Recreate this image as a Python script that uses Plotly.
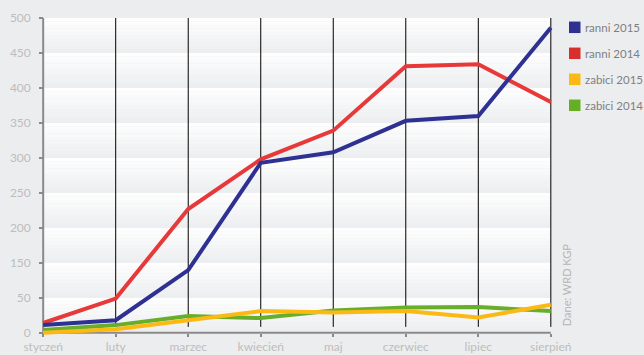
import numpy as np
import plotly.graph_objects as go

# ---- data -------------------------------------------------------------
months = ["styczeń", "luty", "marzec", "kwiecień", "maj", "czerwiec", "lipiec", "sierpień"]
ranni_2015 = [11, 18, 129, 293, 308, 353, 360, 486]
ranni_2014 = [14, 49, 227, 298, 339, 431, 434, 380]
zabici_2015 = [0, 5, 18, 31, 29, 31, 22, 40]
zabici_2014 = [4, 11, 24, 21, 32, 36, 37, 31]
series_names = ["ranni 2015", "ranni 2014", "zabici 2015", "zabici 2014"]
# the source chart's value axis (note: it has no "100" label)
y_tick_labels = [0, 50, 150, 200, 250, 300, 350, 400, 450, 500]
source_note = "Dane: WRD KGP"

# ---- styles -----------------------------------------------------------
line_colors = ["#2e3192", "#e8393a", "#fdb913", "#67ae2a"]
legend_colors = ["#2e3192", "#d7302c", "#fdb913", "#66ae24"]
paper_bg = "#ecedef"
axis_gray = "#8c898a"
label_gray = "#bdbdbd"
FONT = "Lato, 'Open Sans', sans-serif"
W, H = 644, 355
M_L, M_R, M_T, M_B = 41, 91, 18, 18

# the chart's value scale is piecewise: one gridline step per listed label
grid_idx = np.arange(len(y_tick_labels))


def to_axis(values):
    return np.interp(values, y_tick_labels, grid_idx)


x_idx = np.arange(len(months))
X_PAD = 0.03
Y_PAD = 0.12
x_range = [x_idx[0] - X_PAD, x_idx[-1] + X_PAD]
y_range = [grid_idx[0] - Y_PAD, grid_idx[-1]]


def px_to_paper_x(px):
    return (px - M_L) / (W - M_L - M_R)


def px_to_paper_y(py):
    return (H - M_B - py) / (H - M_T - M_B)


fig = go.Figure()

all_series = [ranni_2015, ranni_2014, zabici_2015, zabici_2014]
# data lines (green/yellow first, then red, then blue on top)
for k in [3, 2, 1, 0]:
    fig.add_trace(go.Scatter(
        x=x_idx, y=to_axis(all_series[k]), mode="lines",
        line=dict(color=line_colors[k], width=4),
        name=series_names[k], showlegend=False,
        customdata=all_series[k],
        hovertemplate="%{customdata}<extra>" + series_names[k] + "</extra>",
    ))

shapes = []
# gradient bands: white at the top of each band, light grey at the bottom
top_rgb = np.array([255, 255, 255])
bot_rgb = np.array([235, 237, 239])
steps = 10
for b in grid_idx[:-1]:
    for s in range(steps):
        t = (s + 0.5) / steps  # 0 bottom -> 1 top
        c = bot_rgb + (top_rgb - bot_rgb) * t
        shapes.append(dict(
            type="rect", xref="x", yref="y", layer="below",
            x0=x_idx[0], x1=x_idx[-1],
            y0=b + s / steps, y1=b + (s + 1) / steps,
            fillcolor="rgb(%d,%d,%d)" % tuple(np.round(c).astype(int)),
            line=dict(width=0),
        ))
# vertical black month lines
for xi in x_idx[1:]:
    shapes.append(dict(
        type="line", xref="x", yref="y", layer="below",
        x0=xi, x1=xi, y0=0.17, y1=grid_idx[-1],
        line=dict(color="black", width=1),
    ))
# axis lines
shapes.append(dict(type="line", xref="x", yref="y", layer="below",
                   x0=x_idx[0], x1=x_idx[-1], y0=0, y1=0,
                   line=dict(color=axis_gray, width=2)))
shapes.append(dict(type="line", xref="x", yref="y", layer="below",
                   x0=x_idx[0], x1=x_idx[0], y0=0, y1=grid_idx[-1],
                   line=dict(color=axis_gray, width=2)))

# legend (square swatch + label), laid out like the reference
annotations = []
LEG_SW_X, LEG_SW = 569, 11.5
LEG_TEXT_X = 583
LEG_Y0, LEG_DY = 27.3, 26
for k, name in enumerate(series_names):
    cy = LEG_Y0 + k * LEG_DY
    shapes.append(dict(
        type="rect", xref="paper", yref="paper", layer="above",
        x0=px_to_paper_x(LEG_SW_X), x1=px_to_paper_x(LEG_SW_X + LEG_SW),
        y0=px_to_paper_y(cy + LEG_SW / 2), y1=px_to_paper_y(cy - LEG_SW / 2),
        fillcolor=legend_colors[k], line=dict(width=0),
    ))
    annotations.append(dict(
        text=name, showarrow=False, xref="paper", yref="paper",
        x=px_to_paper_x(LEG_TEXT_X), y=px_to_paper_y(cy),
        xanchor="left", yanchor="middle",
        font=dict(family=FONT, size=11.5, color="#7f7f7f"),
    ))

annotations.append(dict(
    text=source_note, textangle=-90, showarrow=False,
    xref="x", yref="y", x=x_idx[-1], y=1.37,
    xanchor="left", yanchor="middle", xshift=8,
    font=dict(family=FONT, size=11, color="#b5b5b5"),
))

fig.update_layout(
    width=W, height=H,
    margin=dict(l=M_L, r=M_R, t=M_T, b=M_B, autoexpand=False),
    paper_bgcolor=paper_bg, plot_bgcolor=paper_bg,
    font=dict(family=FONT, color=label_gray, size=12),
    shapes=shapes,
    annotations=annotations,
    showlegend=False,
    xaxis=dict(
        range=x_range, tickmode="array", tickvals=x_idx, ticktext=months,
        showgrid=False, zeroline=False, showline=False, automargin=False,
        ticks="outside", ticklen=3, tickwidth=2, tickcolor=axis_gray,
        anchor="free",
        position=(0 - y_range[0]) / (y_range[1] - y_range[0]),
        tickfont=dict(size=12, color=label_gray),
        fixedrange=True,
    ),
    yaxis=dict(
        range=y_range, tickmode="array", tickvals=grid_idx,
        ticktext=[str(v) for v in y_tick_labels],
        showgrid=False, zeroline=False, showline=False, automargin=False,
        ticks="outside", ticklen=4, tickwidth=2, tickcolor=axis_gray,
        ticklabelstandoff=6,
        anchor="free",
        position=(0 - x_range[0]) / (x_range[1] - x_range[0]),
        tickfont=dict(size=12, color=label_gray),
        fixedrange=True,
    ),
)

fig.write_html("out.html")
